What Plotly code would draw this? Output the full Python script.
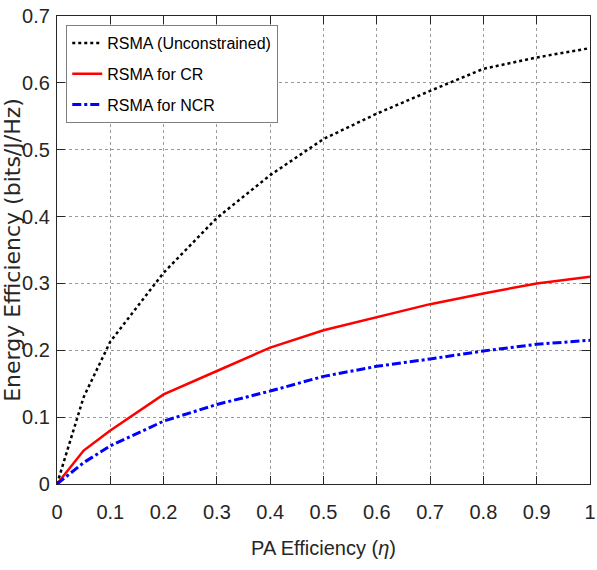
import plotly.graph_objects as go

eta = [0, 0.05, 0.1, 0.2, 0.3, 0.4, 0.5, 0.6, 0.7, 0.8, 0.9, 1.0]
ee_unconstrained = [0, 0.130, 0.213, 0.316, 0.398, 0.462, 0.516, 0.554, 0.588, 0.621, 0.638, 0.652]
ee_cr = [0, 0.050, 0.080, 0.134, 0.169, 0.204, 0.230, 0.249, 0.269, 0.285, 0.300, 0.310]
ee_ncr = [0, 0.032, 0.057, 0.094, 0.119, 0.139, 0.161, 0.176, 0.187, 0.199, 0.209, 0.215]

names = ["RSMA (Unconstrained)", "RSMA for CR", "RSMA for NCR"]
x_ticks = [0, 0.1, 0.2, 0.3, 0.4, 0.5, 0.6, 0.7, 0.8, 0.9, 1]
x_tick_labels = ["0", "0.1", "0.2", "0.3", "0.4", "0.5", "0.6", "0.7", "0.8", "0.9", "1"]
y_ticks = [0, 0.1, 0.2, 0.3, 0.4, 0.5, 0.6, 0.7]
y_tick_labels = ["0", "0.1", "0.2", "0.3", "0.4", "0.5", "0.6", "0.7"]

sans = "Liberation Sans, Arial, sans-serif"

fig = go.Figure()
fig.add_trace(go.Scatter(x=eta, y=ee_unconstrained, mode="lines", name=names[0], legendgroup="a",
                         line=dict(color="black", width=2.5, dash="dot")))
fig.add_trace(go.Scatter(x=eta, y=ee_cr, mode="lines", name=names[1], legendgroup="b",
                         line=dict(color="#ff0000", width=2.5)))
fig.add_trace(go.Scatter(x=eta, y=ee_ncr, mode="lines", name=names[2], legendgroup="c",
                         line=dict(color="#0000ff", width=3, dash="dashdot")))

axis_common = dict(showline=True, linecolor="#262626", linewidth=1.2, mirror="allticks",
                   ticks="inside", ticklen=8, tickcolor="#262626", automargin=False,
                   ticklabeloverflow="allow",
                   showgrid=True, gridcolor="#9a9a9a", griddash="dot", gridwidth=1,
                   zeroline=False, tickfont=dict(family=sans, size=20, color="#262626"))

fig.update_layout(
    width=597, height=570,
    margin=dict(l=57, r=7, t=16, b=86),
    paper_bgcolor="white", plot_bgcolor="white",
    xaxis=dict(range=[0, 1], tickvals=x_ticks, ticktext=x_tick_labels, ticklabelstandoff=10,
               title=dict(text="PA Efficiency (<i>η</i>)", font=dict(family=sans, size=20, color="#262626"),
                          standoff=18),
               **axis_common),
    yaxis=dict(range=[0, 0.7], tickvals=y_ticks, ticktext=y_tick_labels, ticklabelstandoff=2,
               title=dict(text="Energy Efficiency (bits/J/Hz)", font=dict(family="DejaVu Sans", size=22, color="#262626"),
                          standoff=3),
               **axis_common),
    legend=dict(x=0.017, y=0.981, xanchor="left", yanchor="top",
                bgcolor="white", bordercolor="#7f7f7f", borderwidth=1.2,
                font=dict(family=sans, size=16, color="black"),
                itemwidth=30, traceorder="grouped", tracegroupgap=7),
    showlegend=True,
)

fig.write_html("out.html", config={"displayModeBar": False},
               post_script="document.body.style.margin='0';document.body.style.overflow='hidden';")
